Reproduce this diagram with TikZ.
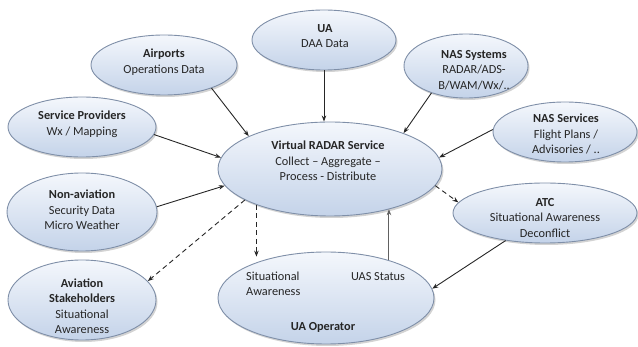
\documentclass[tikz,border=0pt]{standalone}
\usepackage{fontspec}
\setmainfont{Carlito}
\usetikzlibrary{shapes.geometric,shadows,arrows.meta}
\definecolor{ovaltop}{HTML}{F4F7FC}
\definecolor{ovalbot}{HTML}{C4D3E9}
\definecolor{ovaledge}{HTML}{7F8FA8}
\definecolor{txt}{HTML}{262626}
\begin{document}
\begin{tikzpicture}[x=1pt,y=-1pt,
  oval/.style={ellipse, draw=ovaledge, line width=0.9pt, inner sep=0pt,
    top color=ovaltop, bottom color=ovalbot,
    drop shadow={shadow xshift=1.5pt, shadow yshift=-2pt, opacity=0.35}},
  lbl/.style={align=center, inner sep=0pt, text=txt,
    font=\fontsize{12.3}{15.5}\selectfont},
  flow/.style={-{Stealth[length=6pt,width=4.5pt]}, line width=0.9pt, draw=black!85},
  dashflow/.style={flow, dash pattern=on 5pt off 3.5pt}]
\useasboundingbox (0,0) rectangle (638,347);

% ovals
\node[oval, minimum width=144pt, minimum height=60pt] (ua) at (324,40) {};
\node[oval, minimum width=146pt, minimum height=60pt] (apt) at (164,65) {};
\node[oval, minimum width=148pt, minimum height=60pt] (sp) at (82,127) {};
\node[oval, minimum width=150pt, minimum height=78pt] (nonav) at (82,212) {};
\node[oval, minimum width=148pt, minimum height=80pt] (avs) at (82,300) {};
\node[oval, minimum width=124pt, minimum height=64pt] (nassys) at (466,66) {};
\node[oval, minimum width=144pt, minimum height=60pt] (nassvc) at (565,132) {};
\node[oval, minimum width=224pt, minimum height=94pt] (vrs) at (330,169) {};
\node[oval, minimum width=184pt, minimum height=60pt] (atc) at (545,213) {};
\node[oval, minimum width=216pt, minimum height=92pt] (uaop) at (326,298) {};

% oval texts
\node[lbl] (ua-t) at (325,36) {\textbf{UA}\\DAA Data};
\node[lbl] (apt-t) at (164,62) {\textbf{Airports}\\Operations Data};
\node[lbl] (sp-t) at (82,124) {\textbf{Service Providers}\\Wx / Mapping};
\node[lbl] (nonav-t) at (82,210) {\textbf{Non-aviation}\\Security Data\\Micro Weather};
\node[lbl] (avs-t) at (82,306) {\textbf{Aviation}\\\textbf{Stakeholders}\\Situational\\Awareness};
\node[lbl] (nassys-t) at (474,70) {\textbf{NAS Systems}\\RADAR/ADS-\\B/WAM/Wx/..};
\node[lbl] (nassvc-t) at (566,134) {\textbf{NAS Services}\\Flight Plans /\\Advisories / ..};
\node[lbl] (vrs-t) at (328,161) {\textbf{Virtual RADAR Service}\\Collect -- Aggregate --\\Process - Distribute};
\node[lbl] (atc-t) at (545,218) {\textbf{ATC}\\Situational Awareness\\Deconflict};
\node[lbl, align=left, anchor=west] (uaop-sa) at (246,284) {Situational\\Awareness};
\node[lbl] (uaop-st) at (378,277) {UAS Status};
\node[lbl] (uaop-t) at (323,327) {\textbf{UA Operator}};

% inbound data
\draw[flow] (ua.south) -- (ua.south |- vrs.north);
\draw[flow] (apt.-26) -- (vrs.158);
\draw[flow] (sp.-6) -- (vrs.174);
\draw[flow] (nonav.4) -- (vrs.189);
\draw[flow] (nassys.218) -- (vrs.26);
\draw[flow] (nassvc.178) -- (vrs.6);
\draw[flow, draw=black!62] (uaop.31) -- (uaop.31 |- vrs.-34);

% outbound situational awareness
\draw[dashflow] (vrs.200) -- (avs.16);
\draw[dashflow] (vrs.206) -- (vrs.206 |- uaop.140);
\draw[dashflow] (vrs.-9) -- (atc.173);
\draw[flow] (atc.215) -- (uaop.5);
\end{tikzpicture}
\end{document}
